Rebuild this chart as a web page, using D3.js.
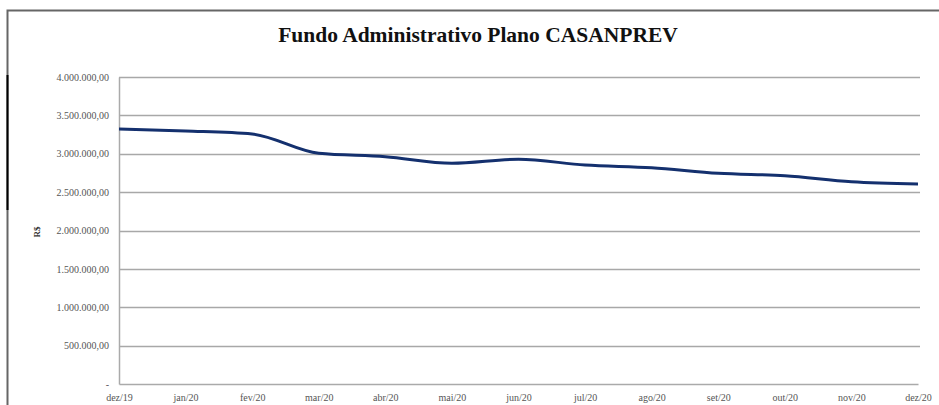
<!DOCTYPE html>
<html>
<head>
<meta charset="utf-8">
<script src="https://cdn.jsdelivr.net/npm/d3@7"></script>
<style>
  body { margin: 0; background: #fff; }
  text { font-family: "Liberation Serif", "Times New Roman", serif; }
</style>
</head>
<body>
<svg id="chart" width="939" height="405"></svg>
<script>
// meses e saldo do fundo (R$)
var meses = ["dez/19","jan/20","fev/20","mar/20","abr/20","mai/20","jun/20",
             "jul/20","ago/20","set/20","out/20","nov/20","dez/20"];
var saldo = [3322000, 3296000, 3257000, 3006000, 2962000, 2876000, 2928000,
             2853000, 2818000, 2745000, 2714000, 2636000, 2606000];
var yTicks = [0, 500000, 1000000, 1500000, 2000000, 2500000, 3000000, 3500000, 4000000];

var svg = d3.select("#chart");
var margin = {top: 77, right: 21, bottom: 21, left: 119},
    width = 939 - margin.left - margin.right,
    height = 405 - margin.top - margin.bottom;

// moldura do grafico
svg.append("path")
    .attr("d", "M7.5,405 V10.5 H939")
    .attr("fill", "none")
    .attr("stroke", "#666")
    .attr("stroke-width", 2);
svg.append("line")
    .attr("x1", 7.5).attr("x2", 7.5).attr("y1", 75).attr("y2", 210)
    .attr("stroke", "#000").attr("stroke-width", 2);

svg.append("text")
    .attr("x", 478).attr("y", 42)
    .attr("text-anchor", "middle")
    .attr("font-size", 21.5).attr("font-weight", "bold")
    .attr("fill", "#111")
    .text("Fundo Administrativo Plano CASANPREV");

var g = svg.append("g").attr("transform", "translate(" + margin.left + "," + margin.top + ")");

var x = d3.scalePoint()
    .domain(meses)
    .range([0, width]);

var y = d3.scaleLinear()
    .domain([0, 4000000])
    .range([height, 0]);

var fmt = function(v) {
  if (v === 0) return "-";
  return d3.format(",.2f")(v).replace(/,/g, "#").replace(".", ",").replace(/#/g, ".");
};

// linhas de grade
g.append("g")
    .selectAll("line")
    .data(yTicks.filter(function(d) { return d > 0; }))
  .enter().append("line")
    .attr("x1", 0).attr("x2", width + 2)
    .attr("y1", function(d) { return Math.round(y(d)) + 0.5; })
    .attr("y2", function(d) { return Math.round(y(d)) + 0.5; })
    .attr("stroke", "#a8a8a8")
    .attr("stroke-width", 1.3);

var yAxis = g.append("g")
    .attr("class", "axis axis--y")
    .call(d3.axisLeft(y).tickValues(yTicks).tickSize(0).tickPadding(10).tickFormat(fmt));
yAxis.select(".domain").attr("stroke", "#aaa").attr("stroke-width", 1.5);
yAxis.selectAll("text").attr("font-size", 10).attr("fill", "#555");

var xAxis = g.append("g")
    .attr("class", "axis axis--x")
    .attr("transform", "translate(0," + height + ")")
    .call(d3.axisBottom(x).tickSize(0).tickPadding(10));
xAxis.select(".domain").attr("stroke", "#aaa").attr("stroke-width", 1.5);
xAxis.selectAll("text").attr("font-size", 10).attr("fill", "#555");

svg.append("text")
    .attr("transform", "translate(40,232) rotate(-90)")
    .attr("text-anchor", "middle")
    .attr("font-size", 9).attr("font-weight", "bold")
    .attr("fill", "#333")
    .text("R$");

var line = d3.line()
    .curve(d3.curveMonotoneX)
    .x(function(d, i) { return x(meses[i]); })
    .y(function(d) { return y(d); });

g.append("path")
    .datum(saldo)
    .attr("class", "line")
    .attr("fill", "none")
    .attr("stroke", "#14306e")
    .attr("stroke-width", 3)
    .attr("d", line);
</script>
</body>
</html>
